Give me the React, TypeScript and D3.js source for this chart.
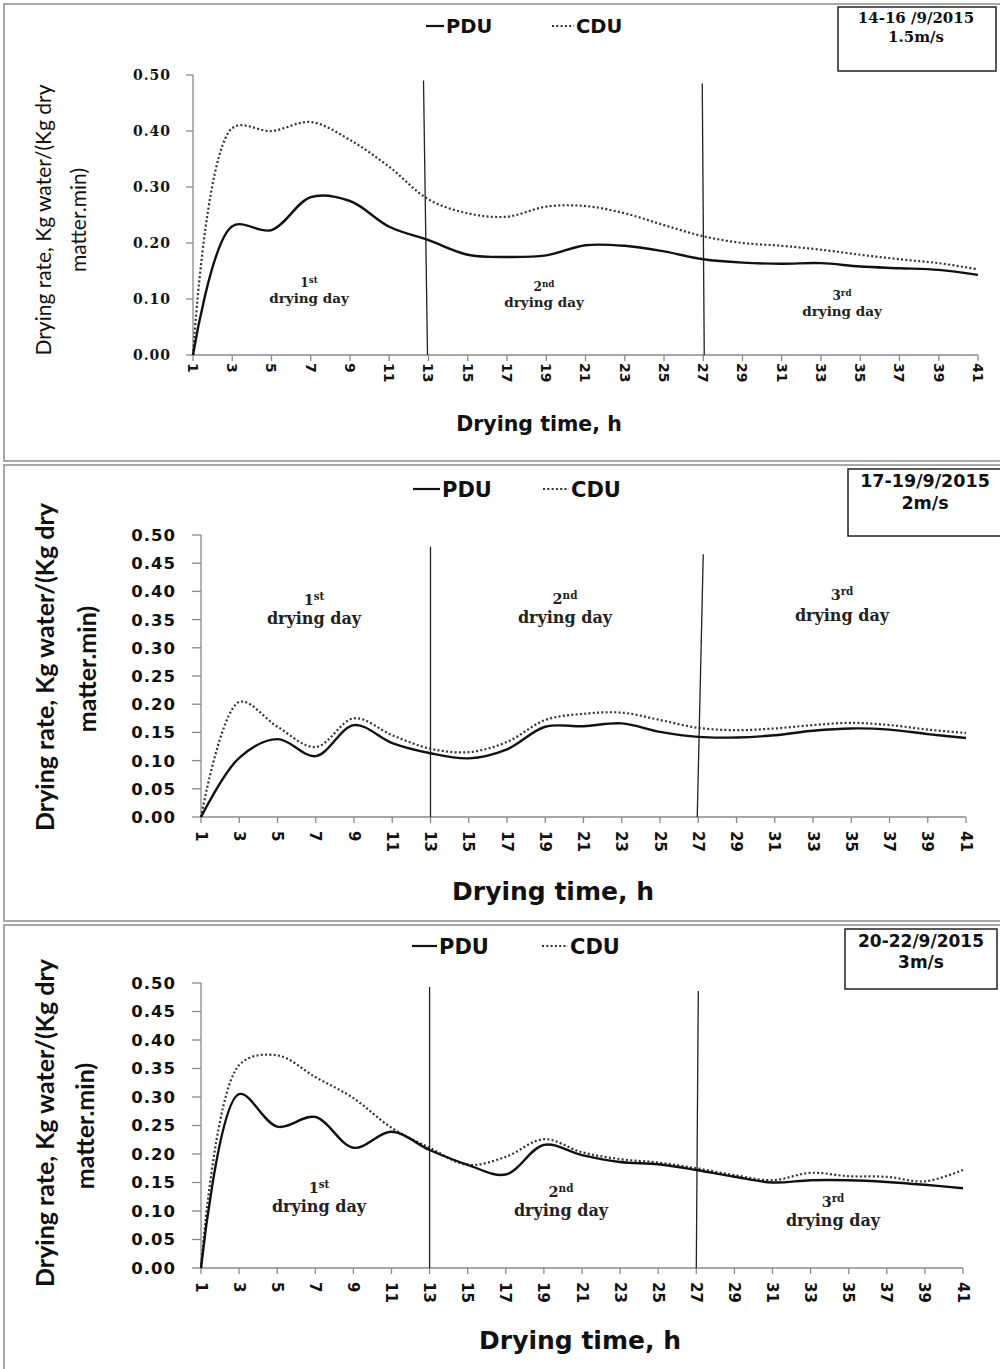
import React from 'react';
import * as d3 from 'd3';

// Drying time categories (h) shown on the x axis
const hours = [1, 3, 5, 7, 9, 11, 13, 15, 17, 19, 21, 23, 25, 27, 29, 31, 33, 35, 37, 39, 41];

// Drying rate, kg water/(kg dry matter.min) — air speed 1.5 m/s
const pdu15 = [0, 0.230, 0.223, 0.282, 0.275, 0.229, 0.205, 0.179, 0.175, 0.178, 0.196, 0.195, 0.185, 0.171, 0.165, 0.163, 0.164, 0.158, 0.155, 0.152, 0.143];
const cdu15 = [0, 0.405, 0.400, 0.416, 0.384, 0.336, 0.278, 0.253, 0.247, 0.265, 0.266, 0.253, 0.232, 0.212, 0.200, 0.195, 0.188, 0.179, 0.171, 0.164, 0.153];

// air speed 2 m/s
const pdu2 = [0, 0.105, 0.138, 0.108, 0.163, 0.131, 0.113, 0.104, 0.120, 0.160, 0.161, 0.166, 0.151, 0.142, 0.141, 0.145, 0.153, 0.157, 0.155, 0.147, 0.140];
const cdu2 = [0, 0.204, 0.160, 0.124, 0.175, 0.145, 0.121, 0.115, 0.133, 0.172, 0.183, 0.185, 0.172, 0.158, 0.154, 0.157, 0.163, 0.167, 0.163, 0.155, 0.149];

// air speed 3 m/s
const pdu3 = [0, 0.305, 0.248, 0.265, 0.211, 0.239, 0.207, 0.181, 0.164, 0.216, 0.198, 0.186, 0.182, 0.172, 0.160, 0.150, 0.154, 0.154, 0.151, 0.146, 0.140];
const cdu3 = [0, 0.356, 0.373, 0.335, 0.298, 0.246, 0.211, 0.181, 0.195, 0.226, 0.203, 0.191, 0.185, 0.175, 0.163, 0.154, 0.167, 0.161, 0.160, 0.152, 0.172];

const yTicksCoarse = [0, 0.1, 0.2, 0.3, 0.4, 0.5];
const yTicksFine = [0, 0.05, 0.1, 0.15, 0.2, 0.25, 0.3, 0.35, 0.4, 0.45, 0.5];

const seriesNames = ['PDU', 'CDU'];
const dayOrdinals = [['1', 'st'], ['2', 'nd'], ['3', 'rd']];
const dayBreaks = [13, 27];

const periods = [
  { dates: '14-16 /9/2015', speed: '1.5m/s' },
  { dates: '17-19/9/2015', speed: '2m/s' },
  { dates: '20-22/9/2015', speed: '3m/s' },
];

const SANS = '"DejaVu Sans", Verdana, sans-serif';
const SERIF = '"DejaVu Serif", Cambria, serif';
const TITLE = 'Lato, "Open Sans", sans-serif';
const DOTS = '2 2.3';

type Layout = {
  frameTop: number;
  frameH: number;
  x0: number;
  x1: number;
  yTop: number;
  yBot: number;
  yTicks: number[];
  tickFont: string;
  tickSize: number;
  tickRight: number;
  tickLen: number;
  xLabGap: number;
  xLabSize: number;
  xTitle: { x: number; y: number; size: number };
  yTitle: { x1: number; x2: number; cy1: number; cy2: number; size: number; weight: number };
  legend: { y: number; a0: number; a1: number; at: number; b0: number; b1: number; bt: number; size: number };
  box: { x: number; y: number; w: number; h: number; cx: number; l1: number; l2: number; font: string; size: number };
  days: { x: number; y1: number; y2: number }[];
  daySize: number;
  dividers: { top: number; dxTop: number; dxBot: number }[];
};

function Panel({ pdu, cdu, period, L }: { pdu: number[]; cdu: number[]; period: { dates: string; speed: string }; L: Layout }) {
  const x = d3.scaleLinear().domain([1, 41]).range([L.x0, L.x1]);
  const y = d3.scaleLinear().domain([0, 0.5]).range([L.yBot, L.yTop]);
  const line = d3
    .line<number>()
    .x((_, i) => x(hours[i]))
    .y((d) => y(d))
    .curve(d3.curveCatmullRom.alpha(0.5));
  const fmt = d3.format('.2f');
  const axisColor = '#8a8a8a';
  const ordSize = L.daySize * 0.9;

  return (
    <g>
      {/* frame */}
      <rect x={4} y={L.frameTop} width={1010} height={L.frameH} fill="none" stroke="#a8a8a8" strokeWidth={2} />

      {/* y axis */}
      <line x1={x(1)} x2={x(1)} y1={y(0.5)} y2={y(0)} stroke={axisColor} strokeWidth={1.3} />
      {L.yTicks.map((t) => (
        <g key={t}>
          <line x1={x(1) - L.tickLen} x2={x(1)} y1={y(t)} y2={y(t)} stroke={axisColor} strokeWidth={1.3} />
          <text
            x={L.tickRight}
            y={y(t)}
            dy="0.36em"
            textAnchor="end"
            fontFamily={L.tickFont}
            fontWeight="bold"
            fontSize={L.tickSize}
            letterSpacing={1}
            fill="#111"
          >
            {fmt(t)}
          </text>
        </g>
      ))}

      {/* x axis */}
      <line x1={x(1)} x2={x(41)} y1={y(0)} y2={y(0)} stroke={axisColor} strokeWidth={1.3} />
      {hours.map((h) => (
        <g key={h}>
          <line x1={x(h)} x2={x(h)} y1={y(0)} y2={y(0) + 6} stroke={axisColor} strokeWidth={1.3} />
          <text
            transform={`translate(${x(h)},${y(0) + L.xLabGap}) rotate(90)`}
            dy="0.36em"
            textAnchor="start"
            fontFamily={SANS}
            fontWeight="bold"
            fontSize={L.xLabSize}
            fill="#111"
          >
            {h}
          </text>
        </g>
      ))}

      {/* day dividers */}
      {dayBreaks.map((h, i) => (
        <line
          key={h}
          x1={x(h) + L.dividers[i].dxTop}
          y1={y(L.dividers[i].top)}
          x2={x(h) + L.dividers[i].dxBot}
          y2={y(0)}
          stroke="#222"
          strokeWidth={1.3}
        />
      ))}

      {/* day labels */}
      {L.days.map((d, i) => (
        <g key={i} fontFamily={SERIF} fontWeight="bold" fill="#222" textAnchor="middle">
          <text x={d.x} y={d.y1} fontSize={ordSize}>
            {dayOrdinals[i][0]}
            <tspan fontSize={ordSize * 0.72} dy={-ordSize * 0.32}>
              {dayOrdinals[i][1]}
            </tspan>
          </text>
          <text x={d.x} y={d.y2} fontSize={L.daySize}>
            drying day
          </text>
        </g>
      ))}

      {/* series */}
      <path d={line(cdu) || ''} fill="none" stroke="#333" strokeWidth={2.2} strokeDasharray={DOTS} />
      <path d={line(pdu) || ''} fill="none" stroke="#111" strokeWidth={2.4} />

      {/* legend */}
      <line x1={L.legend.a0} x2={L.legend.a1} y1={L.legend.y} y2={L.legend.y} stroke="#111" strokeWidth={2.2} />
      <text x={L.legend.at} y={L.legend.y} dy="0.36em" fontFamily={SANS} fontWeight="bold" fontSize={L.legend.size} fill="#111">
        {seriesNames[0]}
      </text>
      <line x1={L.legend.b0} x2={L.legend.b1} y1={L.legend.y} y2={L.legend.y} stroke="#333" strokeWidth={2.2} strokeDasharray={DOTS} />
      <text x={L.legend.bt} y={L.legend.y} dy="0.36em" fontFamily={SANS} fontWeight="bold" fontSize={L.legend.size} fill="#111">
        {seriesNames[1]}
      </text>

      {/* period box */}
      <rect x={L.box.x} y={L.box.y} width={L.box.w} height={L.box.h} fill="#fff" stroke="#222" strokeWidth={1.5} />
      <text x={L.box.cx} y={L.box.l1} dy="0.36em" textAnchor="middle" fontFamily={L.box.font} fontWeight="bold" fontSize={L.box.size} fill="#111">
        {period.dates}
      </text>
      <text x={L.box.cx} y={L.box.l2} dy="0.36em" textAnchor="middle" fontFamily={L.box.font} fontWeight="bold" fontSize={L.box.size} fill="#111">
        {period.speed}
      </text>

      {/* axis titles */}
      <text x={L.xTitle.x} y={L.xTitle.y} dy="0.36em" textAnchor="middle" fontFamily={SANS} fontWeight="bold" fontSize={L.xTitle.size} fill="#111">
        Drying time, h
      </text>
      <text
        transform={`translate(${L.yTitle.x1},${L.yTitle.cy1}) rotate(-90)`}
        dy="0.36em"
        textAnchor="middle"
        fontFamily={TITLE}
        fontWeight={L.yTitle.weight}
        fontSize={L.yTitle.size}
        fill="#111"
      >
        Drying rate, Kg water/(Kg dry
      </text>
      <text
        transform={`translate(${L.yTitle.x2},${L.yTitle.cy2}) rotate(-90)`}
        dy="0.36em"
        textAnchor="middle"
        fontFamily={TITLE}
        fontWeight={L.yTitle.weight}
        fontSize={L.yTitle.size}
        fill="#111"
      >
        matter.min)
      </text>
    </g>
  );
}

const layouts: Layout[] = [
  {
    frameTop: 4,
    frameH: 457,
    x0: 193,
    x1: 978,
    yTop: 75,
    yBot: 355,
    yTicks: yTicksCoarse,
    tickFont: SERIF,
    tickSize: 14,
    tickRight: 171,
    tickLen: 7,
    xLabGap: 8,
    xLabSize: 14,
    xTitle: { x: 539, y: 424, size: 20.5 },
    yTitle: { x1: 43, x2: 78, cy1: 220, cy2: 220, size: 21, weight: 400 },
    legend: { y: 26, a0: 426, a1: 444, at: 446, b0: 552, b1: 574, bt: 576, size: 19.5 },
    box: { x: 838, y: 7, w: 158, h: 64, cx: 916, l1: 18, l2: 37, font: SERIF, size: 15 },
    days: [
      { x: 309, y1: 287, y2: 303 },
      { x: 544, y1: 291, y2: 307 },
      { x: 842, y1: 300, y2: 316 },
    ],
    daySize: 13.5,
    dividers: [
      { top: 0.49, dxTop: -5, dxBot: -1 },
      { top: 0.485, dxTop: -1, dxBot: 1 },
    ],
  },
  {
    frameTop: 465,
    frameH: 456,
    x0: 201,
    x1: 966,
    yTop: 535,
    yBot: 817,
    yTicks: yTicksFine,
    tickFont: SANS,
    tickSize: 16.5,
    tickRight: 176,
    tickLen: 9,
    xLabGap: 14,
    xLabSize: 15,
    xTitle: { x: 553, y: 891, size: 25 },
    yTitle: { x1: 45, x2: 87, cy1: 667, cy2: 669, size: 25, weight: 700 },
    legend: { y: 489, a0: 413, a1: 440, at: 442, b0: 543, b1: 569, bt: 571, size: 21 },
    box: { x: 848, y: 469, w: 160, h: 67, cx: 925, l1: 481, l2: 503, font: SANS, size: 17.5 },
    days: [
      { x: 314, y1: 605, y2: 624 },
      { x: 565, y1: 604, y2: 623 },
      { x: 842, y1: 600, y2: 621 },
    ],
    daySize: 16,
    dividers: [
      { top: 0.479, dxTop: 0, dxBot: 0 },
      { top: 0.466, dxTop: 5, dxBot: -1 },
    ],
  },
  {
    frameTop: 925,
    frameH: 460,
    x0: 201,
    x1: 963,
    yTop: 983,
    yBot: 1268,
    yTicks: yTicksFine,
    tickFont: SANS,
    tickSize: 16.5,
    tickRight: 176,
    tickLen: 9,
    xLabGap: 14,
    xLabSize: 15,
    xTitle: { x: 580, y: 1340, size: 25 },
    yTitle: { x1: 45, x2: 85, cy1: 1123, cy2: 1126, size: 25, weight: 700 },
    legend: { y: 946, a0: 412, a1: 437, at: 439, b0: 542, b1: 568, bt: 570, size: 21 },
    box: { x: 845, y: 929, w: 152, h: 60, cx: 921, l1: 941, l2: 962, font: SANS, size: 17 },
    days: [
      { x: 319, y1: 1193, y2: 1212 },
      { x: 561, y1: 1197, y2: 1216 },
      { x: 833, y1: 1207, y2: 1226 },
    ],
    daySize: 16,
    dividers: [
      { top: 0.493, dxTop: 0, dxBot: 0 },
      { top: 0.486, dxTop: 2, dxBot: 0 },
    ],
  },
];

const panelData = [
  { pdu: pdu15, cdu: cdu15 },
  { pdu: pdu2, cdu: cdu2 },
  { pdu: pdu3, cdu: cdu3 },
];

export default function App() {
  return (
    <svg
      width={1000}
      height={1369}
      viewBox="0 0 1000 1369"
      style={{ position: 'absolute', left: 0, top: 0, display: 'block', background: '#fff' }}
    >
      <rect width={1000} height={1369} fill="#fff" />
      {layouts.map((L, i) => (
        <Panel key={i} pdu={panelData[i].pdu} cdu={panelData[i].cdu} period={periods[i]} L={L} />
      ))}
    </svg>
  );
}
